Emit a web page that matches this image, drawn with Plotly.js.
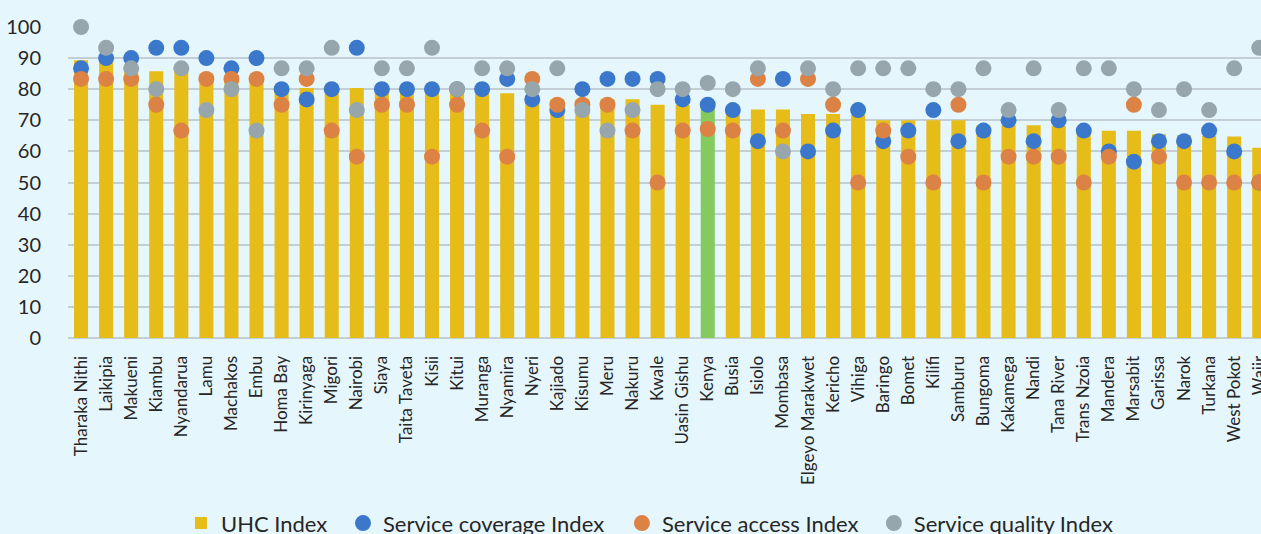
<!DOCTYPE html>
<html>
<head>
<meta charset="utf-8">
<script src="https://cdn.plot.ly/plotly-3.0.1.min.js"></script>
<style>
html,body{margin:0;padding:0;background:#E6F6FD;}
#chart{width:1261px;height:534px;}
</style>
</head>
<body>
<div id="chart"></div>
<script>
var counties = ["Tharaka Nithi","Laikipia","Makueni","Kiambu","Nyandarua","Lamu","Machakos","Embu","Homa Bay","Kirinyaga","Migori","Nairobi","Siaya","Taita Taveta","Kisii","Kitui","Muranga","Nyamira","Nyeri","Kajiado","Kisumu","Meru","Nakuru","Kwale","Uasin Gishu","Kenya","Busia","Isiolo","Mombasa","Elgeyo Marakwet","Kericho","Vihiga","Baringo","Bomet","Kilifi","Samburu","Bungoma","Kakamega","Nandi","Tana River","Trans Nzoia","Mandera","Marsabit","Garissa","Narok","Turkana","West Pokot","Wajir"];

var uhcIndex = [89.3,89,87.5,85.8,85.8,85,84.5,84,81,80.4,80.3,80.4,80,79.8,79.5,79.3,79,78.7,77.5,76.8,76.8,76.8,76.8,75,75,74.2,74,73.5,73.5,72,72,71.8,70,70,70,70,68.3,68.5,68.4,68.2,67.5,66.6,66.6,65.5,65.2,65,64.8,61.2];

var coverageIndex = [86.7,90,90,93.3,93.3,90,86.7,90,80,76.7,80,93.3,80,80,80,80,80,83.3,76.7,73.3,80,83.3,83.3,83.3,76.7,75,73.3,63.3,83.3,60,66.7,73.3,63.3,66.7,73.3,63.3,66.7,70,63.3,70,66.7,60,56.7,63.3,63.3,66.7,60,50];

var accessIndex = [83.3,83.3,83.3,75,66.7,83.3,83.3,83.3,75,83.3,66.7,58.3,75,75,58.3,75,66.7,58.3,83.3,75,75,75,66.7,50,66.7,67.2,66.7,83.3,66.7,83.3,75,50,66.7,58.3,50,75,50,58.3,58.3,58.3,50,58.3,75,58.3,50,50,50,50];

var qualityIndex = [100,93.3,86.7,80,86.7,73.3,80,66.7,86.7,86.7,93.3,73.3,86.7,86.7,93.3,80,86.7,86.7,80,86.7,73.3,66.7,73.3,80,80,82,80,86.7,60,86.7,80,86.7,86.7,86.7,80,80,86.7,73.3,86.7,73.3,86.7,86.7,80,73.3,80,73.3,86.7,93.3];

var highlight = "Kenya";
var barColors = counties.map(function(c){ return c === highlight ? "#85CA5D" : "#E6BC19"; });

var font = "Lato, 'Open Sans', sans-serif";

var traces = [
  {type:"bar", name:"UHC Index", x:counties, y:uhcIndex, marker:{color:barColors}, legend:"legend"},
  {type:"scatter", mode:"markers", name:"Service coverage Index", x:counties, y:coverageIndex, cliponaxis:false,
   marker:{color:"#3B78CB", size:16}, legend:"legend2"},
  {type:"scatter", mode:"markers", name:"Service access Index", x:counties, y:accessIndex, cliponaxis:false,
   marker:{color:"#DC8244", size:16}, legend:"legend3"},
  {type:"scatter", mode:"markers", name:"Service quality Index", x:counties, y:qualityIndex, cliponaxis:false,
   marker:{color:"#97A6AD", size:16}, legend:"legend4"}
];

function leg(xPos){
  return {orientation:"h", x:xPos, xanchor:"left", xref:"container", y:0.02, yanchor:"middle", yref:"container",
          font:{family:font, size:22, color:"#262626"}, bgcolor:"rgba(0,0,0,0)", itemwidth:30};
}

var layout = {
  width:1261, height:534,
  paper_bgcolor:"#E6F6FD", plot_bgcolor:"#E6F6FD",
  margin:{l:68, r:0, t:27, b:196},
  bargap:0.44,
  showlegend:true,
  font:{family:font, color:"#262626"},
  xaxis:{type:"category", range:[-0.52,47.07], tickangle:-90, showgrid:false, zeroline:false, showline:false,
         ticks:"outside", ticklen:10, tickcolor:"rgba(0,0,0,0)", tickfont:{family:font, size:17, color:"#262626"}, fixedrange:true},
  yaxis:{range:[0,100], dtick:10, tick0:0, showgrid:true, gridcolor:"#C3CED5", gridwidth:2,
         zeroline:true, zerolinecolor:"#C3CED5", zerolinewidth:2, showline:false,
         ticks:"outside", ticklen:22, tickcolor:"rgba(0,0,0,0)", tickfont:{family:font, size:20, color:"#262626"}, fixedrange:true},
  legend:leg(0.1435),
  legend2:leg(0.2720),
  legend3:leg(0.4932),
  legend4:leg(0.6930)
};

Plotly.newPlot("chart", traces, layout, {displayModeBar:false, staticPlot:true});
</script>
</body>
</html>
